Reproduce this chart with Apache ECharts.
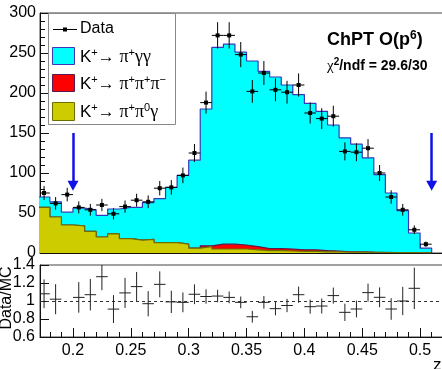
<!DOCTYPE html>
<html>
<head>
<meta charset="utf-8">
<script src="https://cdn.jsdelivr.net/npm/echarts@6/dist/echarts.min.js"></script>
<style>
  html, body { margin: 0; padding: 0; background: #fff; }
  #chart { width: 442px; height: 369px; }
</style>
</head>
<body>
<div id="chart"></div>
<script>
// bin lower edges in z (bin width 0.01)
var binLow = [0.17, 0.18, 0.19, 0.20, 0.21, 0.22, 0.23, 0.24, 0.25, 0.26, 0.27, 0.28,
  0.29, 0.30, 0.31, 0.32, 0.33, 0.34, 0.35, 0.36, 0.37, 0.38, 0.39, 0.40, 0.41,
  0.42, 0.43, 0.44, 0.45, 0.46, 0.47, 0.48, 0.49, 0.50, 0.51];
var binCenter = [0.175, 0.185, 0.195, 0.205, 0.215, 0.225, 0.235, 0.245, 0.255, 0.265,
  0.275, 0.285, 0.295, 0.305, 0.315, 0.325, 0.335, 0.345, 0.355, 0.365, 0.375, 0.385,
  0.395, 0.405, 0.415, 0.425, 0.435, 0.445, 0.455, 0.465, 0.475, 0.485, 0.495, 0.505];

// MC components (stacked bottom to top)
var mcPiPi0Gamma = [57, 45, 35, 34, 27, 20, 24, 18, 16, 17, 13, 13, 11, 6, 8, 5, 5, 5, 4,
  3, 3, 2.5, 2, 2, 1.5, 1.5, 1, 1, 0.8, 0.6, 0.5, 0.4, 0.3, 0.1, 0];
var mcThreePi = [0, 0, 0, 0, 0, 0, 0, 0, 0, 0, 0, 0, 0, 0, 1, 6, 6, 5, 4, 2.5, 2.5, 2.5,
  2, 2, 1.5, 1, 0.5, 0.3, 0.2, 0.2, 0.1, 0, 0, 0, 0];
var mcPiGammaGamma = [13, 19, 16, 22, 27, 27, 31, 39, 41, 46, 55, 69, 86, 110, 171, 246,
  250, 241, 232, 221.5, 214.5, 205, 194, 183, 174, 157.5, 142.5, 134.7, 118, 97.2,
  74.4, 52.6, 24.7, 5.9, 0];

// data with errors
var dataVal = [75, 62, 73, 57, 54, 60, 49, 58, 66, 64, 81, 82, 97, 125, 188, 272, 272,
  248, 202, 225, 204, 201, 210, 175, 168, 171, 127, 126, 131, 100, 70, 54, 29, 11];
var dataErr = [8.7, 7.9, 8.5, 7.5, 7.3, 7.7, 7.0, 7.6, 8.1, 8.0, 9.0, 9.1, 9.8, 11.2,
  13.7, 16.5, 16.5, 15.7, 14.2, 15.0, 14.3, 14.2, 14.5, 13.2, 13.0, 13.1, 11.3, 11.2,
  11.4, 10.0, 8.4, 7.3, 5.4, 3.3];

// Data/MC ratio (null = off scale)
var ratioVal = [1.08, 1.02, null, 1.04, 1.07, 1.27, 0.91, 1.09, 1.16, 0.97, 1.185, 0.99,
  0.985, 1.075, 1.05, 1.055, 1.04, 0.985, 0.825, 0.985, 0.915, 0.95, 1.07, 0.937, 0.944,
  1.06, 0.874, 0.911, 1.093, 1.041, 0.911, 1.0, 1.141, null];
var ratioErr = [0.16, 0.167, null, 0.17, 0.175, 0.15, 0.155, 0.167, 0.163, 0.14, 0.144,
  0.124, 0.11, 0.11, 0.08, 0.07, 0.065, 0.065, 0.065, 0.07, 0.074, 0.074, 0.09, 0.078,
  0.083, 0.089, 0.096, 0.093, 0.1, 0.11, 0.12, 0.157, 0.23, null];

var majorTicks = [0.2, 0.25, 0.3, 0.35, 0.4, 0.45, 0.5];
var minorTicks = [0.18, 0.19, 0.21, 0.22, 0.23, 0.24, 0.26, 0.27, 0.28, 0.29, 0.31, 0.32,
  0.33, 0.34, 0.36, 0.37, 0.38, 0.39, 0.41, 0.42, 0.43, 0.44, 0.46, 0.47, 0.48, 0.49, 0.51];
var ratioTicks = [0.6, 0.8, 1, 1.2, 1.4];
var cutValues = [0.2, 0.51];

var XMIN = 0.1715, XMAX = 0.5198;
var HALF = 0.005;
var FONT = 'Liberation Sans';

// cumulative stack, drawn like THStack: each level is filled down to zero
function cumulate(layers) {
  return binLow.map(function (x, i) {
    var s = 0;
    layers.forEach(function (l) { s += l[i]; });
    return [x, s];
  });
}
function errData(vals, errs) {
  var out = [];
  vals.forEach(function (v, i) {
    if (v != null) out.push([binCenter[i], v, errs[i]]);
  });
  return out;
}
function makeErrRender(withMarker, color) {
  return function (params, api) {
    var x = api.value(0), y = api.value(1), e = api.value(2);
    var l = api.coord([x - HALF, y]), r = api.coord([x + HALF, y]);
    var t = api.coord([x, y + e]), b = api.coord([x, y - e]);
    var c = api.coord([x, y]);
    var st = { stroke: color, lineWidth: 1 };
    var kids = [
      { type: 'line', shape: { x1: l[0], y1: l[1], x2: r[0], y2: r[1] }, style: st },
      { type: 'line', shape: { x1: c[0], y1: t[1], x2: c[0], y2: b[1] }, style: st }
    ];
    if (withMarker) {
      kids.push({ type: 'rect', shape: { x: c[0] - 2, y: c[1] - 2, width: 4, height: 4 },
        style: { fill: '#000' } });
    }
    return { type: 'group', children: kids };
  };
}
function histSeries(name, layers, fill, stroke, z) {
  return {
    name: name, type: 'line', xAxisIndex: 0, yAxisIndex: 0, z: z,
    step: 'end', showSymbol: false, data: cumulate(layers),
    lineStyle: { color: stroke, width: 1.2 }, areaStyle: { color: fill, opacity: 1 }
  };
}

function xAxisPair(gi, labels) {
  return [{
    gridIndex: gi, type: 'value', position: 'bottom', min: XMIN, max: XMAX,
    axisLine: { show: true, lineStyle: { color: '#111', width: 1 } },
    axisTick: { show: true, inside: true, length: 9, customValues: majorTicks,
      lineStyle: { color: '#111' } },
    axisLabel: labels ? { show: true, customValues: majorTicks, fontFamily: FONT,
      fontSize: 16, color: '#000', margin: 6 } : { show: false },
    splitLine: { show: false }
  }, {
    gridIndex: gi, type: 'value', position: 'bottom', min: XMIN, max: XMAX,
    axisLine: { show: false },
    axisTick: { show: true, inside: true, length: 5, customValues: minorTicks,
      lineStyle: { color: '#111' } },
    axisLabel: { show: false },
    splitLine: { show: false }
  }];
}

var chart = echarts.init(document.getElementById('chart'), null, { renderer: 'canvas' });

var legendRich = {
  t: { fontFamily: FONT, fontSize: 17, color: '#000', lineHeight: 20 },
  g: { fontFamily: 'Liberation Serif', fontSize: 18, color: '#000', lineHeight: 20 },
  s: { fontFamily: FONT, fontSize: 11, color: '#000', verticalAlign: 'top', lineHeight: 11 }
};

chart.setOption({
  animation: false,
  backgroundColor: '#fff',
  grid: [
    { left: 40, top: 13, width: 403, height: 240, show: true, borderColor: '#444',
      borderWidth: 1, backgroundColor: 'transparent', containLabel: false,
      outerBoundsMode: 'none' },
    { left: 40, top: 265, width: 403, height: 72, show: true, borderColor: '#444',
      borderWidth: 1, backgroundColor: 'transparent', containLabel: false,
      outerBoundsMode: 'none' }
  ],
  xAxis: xAxisPair(0, false).concat(xAxisPair(1, true)),
  yAxis: [{
    gridIndex: 0, type: 'value', min: 0, max: 300, interval: 50,
    axisLine: { show: true, lineStyle: { color: '#111' } },
    axisTick: { show: true, inside: true, length: 9, lineStyle: { color: '#111' } },
    minorTick: { show: true, splitNumber: 5, length: 5, lineStyle: { color: '#111' } },
    axisLabel: { fontFamily: FONT, fontSize: 16, color: '#000', margin: 4 },
    splitLine: { show: false }
  }, {
    gridIndex: 1, type: 'value', min: 0.6, max: 1.4,
    axisLine: { show: true, lineStyle: { color: '#111' } },
    axisTick: { show: true, inside: true, length: 9, customValues: ratioTicks,
      lineStyle: { color: '#111' } },
    axisLabel: { customValues: ratioTicks, fontFamily: FONT, fontSize: 16, color: '#000',
      margin: 5 },
    splitLine: { show: false }
  }],
  series: [
    histSeries('K+ -> pi+ gamma gamma', [mcPiPi0Gamma, mcThreePi, mcPiGammaGamma],
      '#00ffff', '#3838b8', 2),
    histSeries('K+ -> pi+ pi+ pi-', [mcPiPi0Gamma, mcThreePi], '#ff0000', '#5a1a4a', 3),
    histSeries('K+ -> pi+ pi0 gamma', [mcPiPi0Gamma], '#cccc00', '#6e6e00', 4),
    {
      name: 'Data', type: 'custom', xAxisIndex: 0, yAxisIndex: 0, clip: true, z: 5,
      data: errData(dataVal, dataErr), renderItem: makeErrRender(true, '#000'),
      markLine: {
        silent: true, symbol: ['none', 'triangle'], symbolSize: [11, 10],
        label: { show: false },
        lineStyle: { color: '#1010e8', width: 2.5, type: 'solid' },
        data: cutValues.map(function (c) {
          return [{ coord: [c, 150] }, { coord: [c, 84] }];
        })
      }
    }, {
      name: 'Ratio', type: 'custom', xAxisIndex: 2, yAxisIndex: 1, clip: true, z: 5,
      data: errData(ratioVal, ratioErr), renderItem: makeErrRender(false, '#222'),
      markLine: {
        silent: true, symbol: 'none', label: { show: false },
        lineStyle: { color: '#333', width: 1, type: [3, 3] },
        data: [{ yAxis: 1 }]
      }
    }
  ],
  graphic: [
    { type: 'rect', z: 100, shape: { x: 48.5, y: 13.5, width: 127, height: 111 },
      style: { fill: '#fff', stroke: '#888', lineWidth: 1 } },
    { type: 'line', z: 101, shape: { x1: 53, y1: 29.5, x2: 77, y2: 29.5 },
      style: { stroke: '#000', lineWidth: 1 } },
    { type: 'rect', z: 101, shape: { x: 63, y: 27.5, width: 4, height: 4 },
      style: { fill: '#000' } },
    { type: 'text', z: 101, x: 80, y: 29,
      style: { text: 'Data', font: '16px ' + FONT, fill: '#000', verticalAlign: 'middle' } },
    { type: 'rect', z: 101, shape: { x: 52.5, y: 47.5, width: 22, height: 17 },
      style: { fill: '#00ffff', stroke: '#3838b8', lineWidth: 1 } },
    { type: 'text', z: 101, x: 80, y: 57,
      style: { text: '{t|K}{s|+}{t|→ }{g|π}{s|+}{g|γγ}', rich: legendRich,
        verticalAlign: 'middle' } },
    { type: 'rect', z: 101, shape: { x: 52.5, y: 74.5, width: 22, height: 17 },
      style: { fill: '#ff0000', stroke: '#5a1a4a', lineWidth: 1 } },
    { type: 'text', z: 101, x: 80, y: 84,
      style: { text: '{t|K}{s|+}{t|→ }{g|π}{s|+}{g|π}{s|+}{g|π}{s|−}', rich: legendRich,
        verticalAlign: 'middle' } },
    { type: 'rect', z: 101, shape: { x: 52.5, y: 102.5, width: 22, height: 18 },
      style: { fill: '#cccc00', stroke: '#6e6e00', lineWidth: 1 } },
    { type: 'text', z: 101, x: 80, y: 112,
      style: { text: '{t|K}{s|+}{t|→ }{g|π}{s|+}{g|π}{s|0}{g|γ}', rich: legendRich,
        verticalAlign: 'middle' } },
    { type: 'text', z: 101, x: 327, y: 40,
      style: { text: '{b|ChPT O(p}{s|6}{b|)}', verticalAlign: 'middle',
        rich: {
          b: { fontFamily: FONT, fontWeight: 'bold', fontSize: 18, color: '#000', lineHeight: 21 },
          s: { fontFamily: FONT, fontWeight: 'bold', fontSize: 12, color: '#000',
            verticalAlign: 'top', lineHeight: 12 }
        } } },
    { type: 'text', z: 101, x: 327, y: 66,
      style: { text: '{g|χ}{s|2}{b|/ndf = 29.6/30}', verticalAlign: 'middle',
        rich: {
          b: { fontFamily: FONT, fontWeight: 'bold', fontSize: 14, color: '#000', lineHeight: 17 },
          g: { fontFamily: 'Liberation Serif', fontSize: 15, color: '#000', lineHeight: 17 },
          s: { fontFamily: FONT, fontWeight: 'bold', fontSize: 10, color: '#000',
            verticalAlign: 'top', lineHeight: 10 }
        } } },
    { type: 'text', z: 101, x: 7, y: 298, rotation: Math.PI / 2,
      style: { text: 'Data/MC', font: '16px ' + FONT, fill: '#000', align: 'center',
        verticalAlign: 'middle' } },
    { type: 'text', z: 101, x: 433, y: 365,
      style: { text: 'z', font: '17px ' + FONT, fill: '#000', verticalAlign: 'middle' } }
  ]
});
</script>
</body>
</html>
